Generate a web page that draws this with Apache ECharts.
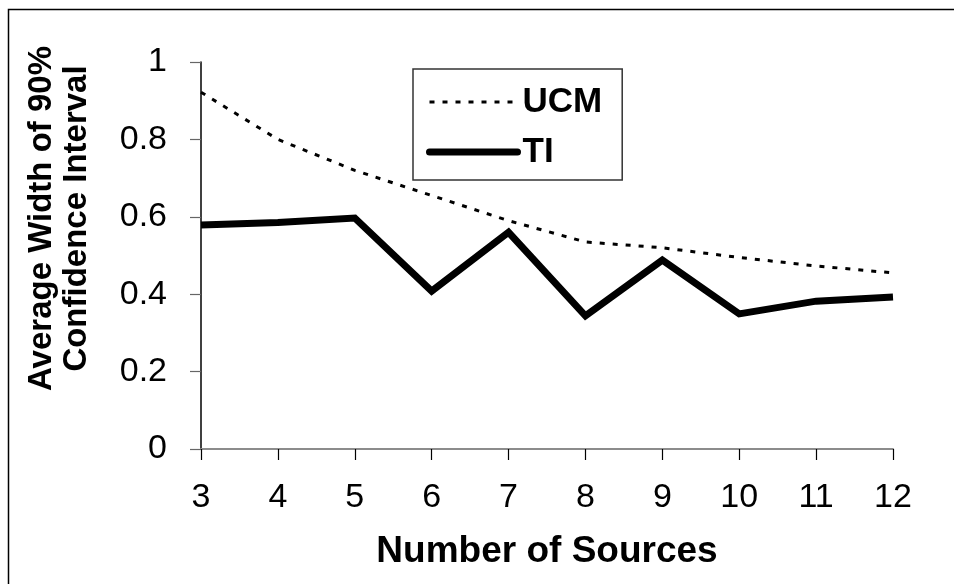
<!DOCTYPE html>
<html>
<head>
<meta charset="utf-8">
<script src="https://cdn.jsdelivr.net/npm/echarts@6/dist/echarts.min.js"></script>
<style>
  html, body { margin: 0; padding: 0; background: #fff; }
  #main { width: 954px; height: 584px; }
</style>
</head>
<body>
<div id="main"></div>
<script>
  // data
  var sources = ['3', '4', '5', '6', '7', '8', '9', '10', '11', '12'];
  var ucm = [0.922, 0.80, 0.72, 0.655, 0.59, 0.535, 0.52, 0.495, 0.473, 0.455];
  var ti = [0.579, 0.585, 0.597, 0.408, 0.56, 0.344, 0.488, 0.349, 0.382, 0.393];
  var yTicks = [0, 0.2, 0.4, 0.6, 0.8, 1];

  var myChart = echarts.init(document.getElementById('main'));

  var font = '"Liberation Sans", Arial, sans-serif';

  var option = {
    animation: false,
    backgroundColor: '#fff',
    textStyle: { fontFamily: font },
    graphic: [{
      type: 'rect',
      shape: { x: 8.5, y: 9.5, width: 1000, height: 1000 },
      style: { fill: 'none', stroke: '#000', lineWidth: 1.5 },
      silent: true
    }],
    grid: { left: 201, right: 61, top: 62, bottom: 135 },
    legend: {
      orient: 'vertical',
      left: 413,
      top: 69,
      padding: [15, 20, 10, 13],
      itemGap: 14,
      itemWidth: 88,
      itemHeight: 20,
      borderColor: '#333',
      borderWidth: 1.5,
      backgroundColor: '#fff',
      textStyle: { fontFamily: font, fontSize: 35, fontWeight: 'bold', color: '#000', lineHeight: 36 },
      data: [
        { name: 'UCM', itemStyle: { opacity: 0 }, lineStyle: { color: '#000', width: 3, type: [5, 8] } },
        { name: 'TI', itemStyle: { opacity: 0 }, lineStyle: { color: '#000', width: 7, cap: 'round' } }
      ]
    },
    xAxis: {
      type: 'category',
      data: sources,
      boundaryGap: false,
      name: 'Number of Sources',
      nameLocation: 'middle',
      nameGap: 84,
      nameTextStyle: { fontFamily: font, fontSize: 37, fontWeight: 'bold', color: '#000' },
      axisLine: { lineStyle: { color: '#8c8c8c', width: 2 } },
      axisTick: { show: true, length: 11, lineStyle: { color: '#000', width: 1.2 } },
      axisLabel: { margin: 32, fontSize: 34, color: '#000', fontFamily: font },
      splitLine: { show: false }
    },
    yAxis: {
      type: 'value',
      min: yTicks[0],
      max: yTicks[yTicks.length - 1],
      interval: 0.2,
      name: 'Average Width of 90%\nConfidence Interval',
      nameLocation: 'middle',
      nameRotate: 90,
      nameGap: 107,
      nameTextStyle: { fontFamily: font, fontSize: 33, fontWeight: 'bold', color: '#000', lineHeight: 35, padding: [0, 0, 0, 74] },
      axisLine: { show: true, lineStyle: { color: '#000', width: 1.5 } },
      axisTick: { show: true, length: 11, lineStyle: { color: '#666', width: 1.2 } },
      axisLabel: { margin: 34, fontSize: 34, color: '#000', fontFamily: font },
      splitLine: { show: false }
    },
    series: [{
      name: 'UCM',
      type: 'line',
      data: ucm,
      symbol: 'none',
      z: 3,
      lineStyle: { color: '#000', width: 3, type: [5, 8] }
    }, {
      name: 'TI',
      type: 'line',
      data: ti,
      symbol: 'none',
      z: 2,
      lineStyle: { color: '#000', width: 7, join: 'miter', cap: 'butt' }
    }]
  };

  myChart.setOption(option);
</script>
</body>
</html>
